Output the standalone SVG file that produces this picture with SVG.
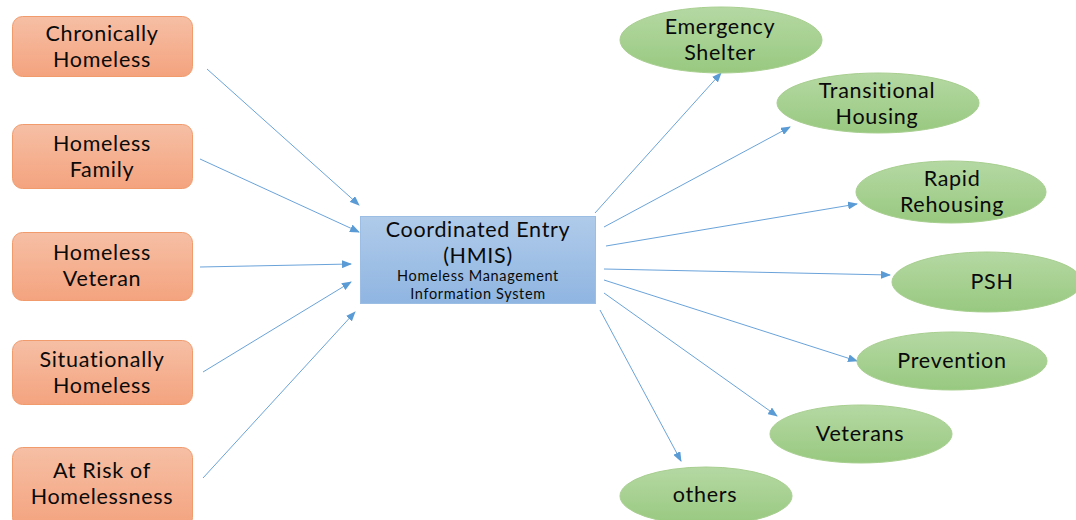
<svg xmlns="http://www.w3.org/2000/svg" width="1076" height="520" viewBox="0 0 1076 520">
<defs>
<linearGradient id="gOr" x1="0" y1="0" x2="0" y2="1"><stop offset="0" stop-color="#f6bfa5"/><stop offset="1" stop-color="#f4a37e"/></linearGradient>
<linearGradient id="gBl" x1="0" y1="0" x2="0" y2="1"><stop offset="0" stop-color="#b0cbea"/><stop offset="1" stop-color="#8fb5e1"/></linearGradient>
<linearGradient id="gGr" x1="0" y1="0" x2="0" y2="1"><stop offset="0" stop-color="#b5d8a3"/><stop offset="1" stop-color="#98c980"/></linearGradient>
<marker id="ah" markerWidth="10" markerHeight="8" refX="9" refY="4" orient="auto" markerUnits="userSpaceOnUse"><path d="M0,0 L10,4 L0,8 z" fill="#5b9bd5"/></marker>
<style>
.src{fill:url(#gOr);stroke:#f19a6b;stroke-width:1}
.hub{fill:url(#gBl);stroke:#9cbde4;stroke-width:1}
.dst{fill:url(#gGr);stroke:#a8cf90;stroke-width:1}
.t{font-family:Lato,"Open Sans","Liberation Sans",sans-serif;font-size:21.5px;letter-spacing:0.7px;fill:#0a0a0a;text-anchor:middle}
.s{font-family:Lato,"Open Sans","Liberation Sans",sans-serif;font-size:14.5px;letter-spacing:0.65px;fill:#0a0a0a;text-anchor:middle}
.c line{stroke:#6aa3d9;stroke-width:1;marker-end:url(#ah)}
</style>
</defs>
<rect width="1076" height="520" fill="#fff"/>
<g class="c" id="connectors">
<line x1="207" y1="69" x2="359" y2="205"/>
<line x1="200" y1="159" x2="359" y2="232"/>
<line x1="200" y1="267" x2="351" y2="264"/>
<line x1="203" y1="372" x2="351" y2="282"/>
<line x1="203" y1="478" x2="355" y2="312"/>
<line x1="595" y1="213" x2="721" y2="73"/>
<line x1="604" y1="227" x2="790" y2="127"/>
<line x1="606" y1="246" x2="857" y2="204"/>
<line x1="604" y1="269" x2="890" y2="275"/>
<line x1="604" y1="280" x2="857" y2="361"/>
<line x1="604" y1="293" x2="777" y2="416"/>
<line x1="600" y1="310" x2="681" y2="461"/>
</g>
<g id="n-chronic"><rect class="src" x="12.5" y="16.5" width="180" height="60" rx="10"/><text class="t" x="102" y="41">Chronically</text><text class="t" x="102" y="67">Homeless</text></g>
<g id="n-family"><rect class="src" x="12.5" y="124.5" width="180" height="64" rx="10"/><text class="t" x="102" y="151">Homeless</text><text class="t" x="102" y="177">Family</text></g>
<g id="n-veteran"><rect class="src" x="12.5" y="232.5" width="180" height="68" rx="10"/><text class="t" x="102" y="260">Homeless</text><text class="t" x="102" y="286">Veteran</text></g>
<g id="n-situational"><rect class="src" x="12.5" y="340.5" width="180" height="64" rx="10"/><text class="t" x="102" y="367">Situationally</text><text class="t" x="102" y="393">Homeless</text></g>
<g id="n-risk"><rect class="src" x="12.5" y="447.5" width="180" height="80" rx="10"/><text class="t" x="102" y="478">At Risk of</text><text class="t" x="102" y="504">Homelessness</text></g>
<g id="n-hub"><rect class="hub" x="360.5" y="216.5" width="235" height="87"/><text class="t" x="478" y="237">Coordinated Entry</text><text class="t" x="478" y="263">(HMIS)</text><text class="s" x="478" y="281">Homeless Management</text><text class="s" x="478" y="298.5">Information System</text></g>
<g id="n-es"><ellipse class="dst" cx="721" cy="40" rx="101" ry="33"/><text class="t" x="720" y="34">Emergency</text><text class="t" x="720" y="60">Shelter</text></g>
<g id="n-th"><ellipse class="dst" cx="878" cy="103" rx="101" ry="30"/><text class="t" x="877" y="98">Transitional</text><text class="t" x="877" y="124">Housing</text></g>
<g id="n-rr"><ellipse class="dst" cx="951" cy="192" rx="95" ry="31"/><text class="t" x="952" y="186">Rapid</text><text class="t" x="952" y="212">Rehousing</text></g>
<g id="n-psh"><ellipse class="dst" cx="987" cy="282" rx="95" ry="30"/><text class="t" x="992" y="289">PSH</text></g>
<g id="n-prev"><ellipse class="dst" cx="952" cy="361" rx="95" ry="29"/><text class="t" x="952" y="368">Prevention</text></g>
<g id="n-vets"><ellipse class="dst" cx="861" cy="434" rx="91" ry="29"/><text class="t" x="860" y="441">Veterans</text></g>
<g id="n-others"><ellipse class="dst" cx="706" cy="496" rx="86" ry="29"/><text class="t" x="705" y="502">others</text></g>
</svg>
